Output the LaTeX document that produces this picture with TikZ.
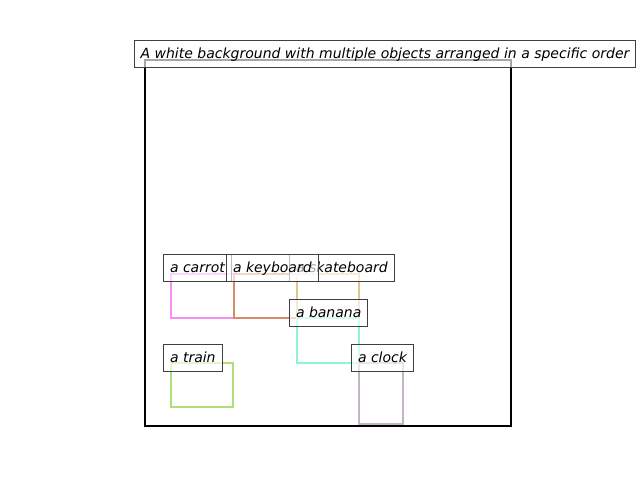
\documentclass[tikz,border=0pt]{standalone}
\usepackage{fontspec}
\setmainfont{DejaVu Sans}
\definecolor{cCarrot}{HTML}{F78EF0}
\definecolor{cKeyboard}{HTML}{D98A6A}
\definecolor{cSkate}{HTML}{E8C290}
\definecolor{cBanana}{HTML}{8EF5D2}
\definecolor{cTrain}{HTML}{ADE07A}
\definecolor{cClock}{HTML}{C4B5C6}
\definecolor{cEdge}{HTML}{404040}
\begin{document}
\begin{tikzpicture}[x=1pt,y=-1pt,
  obj/.style={draw=#1,line width=2.3pt,inner sep=0pt,anchor=north west},
  lbl/.style={draw=cEdge,line width=1pt,fill=white,fill opacity=0.65,draw opacity=1,text opacity=1,
    font=\fontsize{14}{16}\selectfont\itshape,inner xsep=6.5pt,inner ysep=0pt,
    minimum height=27pt,text height=11.5pt,text depth=2pt,anchor=west}]
\useasboundingbox (0,0) rectangle (640,480);
\node[draw=black,line width=2.3pt,inner sep=0pt,anchor=north west,minimum width=366pt,minimum height=366pt] (frame) at (144,59) {};
% objects
\node[obj=cCarrot,minimum width=63pt,minimum height=44pt] (carrot) at (170,273) {};
\node[obj=cKeyboard,minimum width=63pt,minimum height=44pt] (keyboard) at (233,273) {};
\node[obj=cSkate,minimum width=62pt,minimum height=44pt] (skate) at (296,273) {};
\node[obj=cBanana,minimum width=62pt,minimum height=45pt] (banana) at (296,317) {};
\node[obj=cTrain,minimum width=62pt,minimum height=44pt] (train) at (170,362) {};
\node[obj=cClock,minimum width=44pt,minimum height=61pt] (clock) at (358,362) {};
% labels
\node[lbl] (lskate) at (289,267.5) {a skateboard};
\node[lbl] (lcarrot) at (163,267.5) {a carrot};
\node[lbl] (lkeyboard) at (226,267.5) {a keyboard};
\node[lbl] (lbanana) at (289,312.5) {a banana};
\node[lbl] (ltrain) at (163,357.5) {a train};
\node[lbl] (lclock) at (351,357.5) {a clock};
\node[lbl,anchor=center] (title) at (385,53.5) {A white background with multiple objects arranged in a specific order};
\end{tikzpicture}
\end{document}
